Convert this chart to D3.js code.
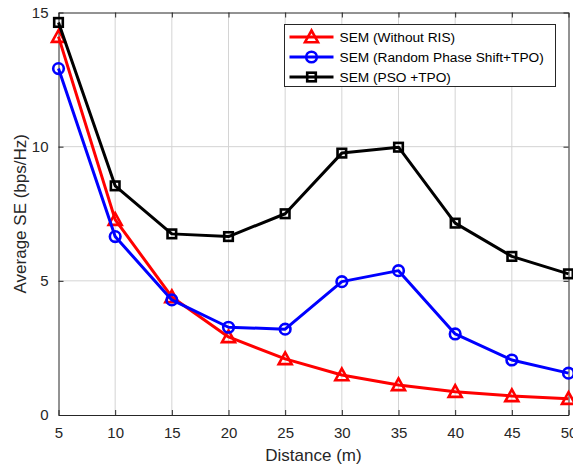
<!DOCTYPE html>
<html>
<head>
<meta charset="utf-8">
<script src="https://cdn.jsdelivr.net/npm/d3@7/dist/d3.min.js"></script>
<style>
  body { margin: 0; background: #fff; }
  svg { display: block; font-family: "Liberation Sans", Arial, Helvetica, sans-serif; }
</style>
</head>
<body>
<svg id="chart" width="573" height="464"></svg>
<script>
// Distance samples (m)
const distances = [5, 10, 15, 20, 25, 30, 35, 40, 45, 50];

// Average spectral efficiency (bps/Hz) per scheme
const semWithoutRIS = [14.1, 7.28, 4.4, 2.91, 2.09, 1.49, 1.12, 0.87, 0.71, 0.61];
const semRandomTPO  = [12.91, 6.65, 4.29, 3.27, 3.2, 4.97, 5.38, 3.02, 2.05, 1.56];
const semPsoTPO     = [14.63, 8.54, 6.75, 6.65, 7.5, 9.76, 9.98, 7.15, 5.91, 5.26];

const seriesNames = ["SEM (Without RIS)", "SEM (Random Phase Shift+TPO)", "SEM (PSO +TPO)"];
const xTicks = [5, 10, 15, 20, 25, 30, 35, 40, 45, 50];
const yTicks = [0, 5, 10, 15];

const series = [
  { name: seriesNames[0], values: semWithoutRIS, color: "#ff0000", marker: "triangle" },
  { name: seriesNames[1], values: semRandomTPO,  color: "#0000ff", marker: "circle" },
  { name: seriesNames[2], values: semPsoTPO,     color: "#000000", marker: "square" }
];

const svg = d3.select("#chart");
const margin = { left: 58.5, right: 4.5, top: 12.5, bottom: 49 };
const W = 573, H = 464;

const x = d3.scaleLinear().domain([5, 50]).range([margin.left, W - margin.right]);
const y = d3.scaleLinear().domain([0, 15]).range([H - margin.bottom, margin.top]);

const axisColor = "#262626";
const gridColor = "#d4d4d4";

// grid lines
const grid = svg.append("g");
grid.selectAll("line.gx").data(xTicks.slice(1, -1)).join("line")
  .attr("x1", d => x(d)).attr("x2", d => x(d))
  .attr("y1", y(0)).attr("y2", y(15))
  .attr("stroke", gridColor).attr("stroke-width", 1);
grid.selectAll("line.gy").data(yTicks.slice(1, -1)).join("line")
  .attr("x1", x(5)).attr("x2", x(50))
  .attr("y1", d => y(d)).attr("y2", d => y(d))
  .attr("stroke", gridColor).attr("stroke-width", 1);

// axes with inward ticks
const tickLen = 5;
const xAxisBottom = svg.append("g").attr("transform", `translate(0,${y(0)})`)
  .call(d3.axisBottom(x).tickValues(xTicks).tickSizeInner(-tickLen).tickSizeOuter(0).tickPadding(12));
const xAxisTop = svg.append("g").attr("transform", `translate(0,${y(15)})`)
  .call(d3.axisTop(x).tickValues(xTicks).tickSizeInner(-tickLen).tickSizeOuter(0).tickFormat(""));
const yAxisLeft = svg.append("g").attr("transform", `translate(${x(5)},0)`)
  .call(d3.axisLeft(y).tickValues(yTicks).tickSizeInner(-tickLen).tickSizeOuter(0).tickPadding(10));
const yAxisRight = svg.append("g").attr("transform", `translate(${x(50)},0)`)
  .call(d3.axisRight(y).tickValues(yTicks).tickSizeInner(-tickLen).tickSizeOuter(0).tickFormat(""));

[xAxisBottom, xAxisTop, yAxisLeft, yAxisRight].forEach(g => {
  g.select(".domain").attr("stroke", axisColor).attr("stroke-width", 1);
  g.selectAll(".tick line").attr("stroke", axisColor);
  g.selectAll(".tick text").attr("fill", axisColor)
    .style("font-size", "15px").style("font-family", "Liberation Sans, Arial, sans-serif");
});

// series lines
const line = d3.line().x((d, i) => x(distances[i])).y(d => y(d));

function drawMarker(g, type, cx, cy, color) {
  if (type === "triangle") {
    const s = 6.5;
    g.append("path")
      .attr("d", `M${cx},${cy - s} L${cx + s},${cy + s * 0.8} L${cx - s},${cy + s * 0.8} Z`)
      .attr("fill", "none").attr("stroke", color).attr("stroke-width", 2.6)
      .attr("stroke-linejoin", "miter");
  } else if (type === "circle") {
    g.append("circle").attr("cx", cx).attr("cy", cy).attr("r", 5.3)
      .attr("fill", "none").attr("stroke", color).attr("stroke-width", 2.6);
  } else {
    g.append("rect").attr("x", cx - 4.3).attr("y", cy - 4.3).attr("width", 8.6).attr("height", 8.6)
      .attr("fill", "none").attr("stroke", color).attr("stroke-width", 2.6);
  }
}

series.forEach(s => {
  const g = svg.append("g");
  g.append("path").datum(s.values).attr("d", line)
    .attr("fill", "none").attr("stroke", s.color).attr("stroke-width", 3)
    .attr("stroke-linejoin", "round");
  s.values.forEach((v, i) => drawMarker(g, s.marker, x(distances[i]), y(v), s.color));
});

// legend
const lg = svg.append("g");
const lx = 284.5, ly = 24.5, lw = 271, lh = 62;
lg.append("rect").attr("x", lx).attr("y", ly).attr("width", lw).attr("height", lh)
  .attr("fill", "#fff").attr("stroke", axisColor).attr("stroke-width", 1);
series.forEach((s, i) => {
  const yy = ly + 12.5 + i * 20;
  lg.append("line").attr("x1", lx + 5).attr("x2", lx + 49).attr("y1", yy).attr("y2", yy)
    .attr("stroke", s.color).attr("stroke-width", 3);
  drawMarker(lg, s.marker, lx + 27, yy, s.color);
  lg.append("text").attr("x", lx + 55).attr("y", yy + 5)
    .attr("fill", "#000").style("font-size", "13.7px").text(s.name);
});

// axis titles
svg.append("text").attr("x", (x(5) + x(50)) / 2).attr("y", 461)
  .attr("text-anchor", "middle").attr("fill", axisColor)
  .style("font-size", "17px").text("Distance (m)");
svg.append("text")
  .attr("transform", `translate(26,${(y(0) + y(15)) / 2}) rotate(-90)`)
  .attr("text-anchor", "middle").attr("fill", axisColor)
  .style("font-size", "17px").text("Average SE (bps/Hz)");
</script>
</body>
</html>
